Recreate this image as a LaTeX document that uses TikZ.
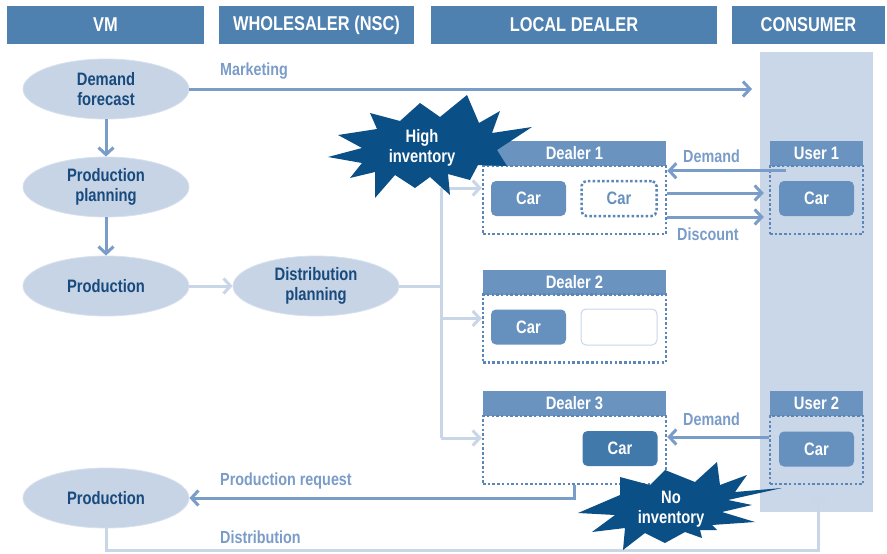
\documentclass[tikz,border=0pt]{standalone}
\usepackage{fontspec}
\setmainfont{Liberation Sans}[FakeStretch=0.82]
\usetikzlibrary{arrows.meta,shapes.geometric,calc}
\definecolor{hdr}{HTML}{4F81B0}
\definecolor{dhdr}{HTML}{6A93BF}
\definecolor{carc}{HTML}{6690BD}
\definecolor{cardark}{HTML}{4179AA}
\definecolor{dotc}{HTML}{5A86B8}
\definecolor{midc}{HTML}{7A9CC8}
\definecolor{lightc}{HTML}{C9D6E7}
\definecolor{ellfill}{HTML}{C6D4E6}
\definecolor{elltext}{HTML}{184A7D}
\definecolor{starc}{HTML}{0B4F87}
\definecolor{consbg}{HTML}{CAD7E8}
\definecolor{emptyc}{HTML}{C8D6EA}
\begin{document}
\begin{tikzpicture}[x=1pt,y=-1pt,
  hdrbox/.style={fill=hdr,text=white,font=\bfseries\fontsize{20}{22}\selectfont,minimum height=38pt,inner sep=0pt},
  ell/.style={ellipse,fill=ellfill,draw=ellfill!70!white,line width=0.8pt,text=elltext,font=\bfseries\fontsize{18}{20.5}\selectfont,minimum width=166pt,minimum height=60pt,inner sep=0pt,align=center},
  dhead/.style={fill=dhdr,text=white,font=\bfseries\fontsize{18}{20}\selectfont,minimum height=25pt,inner sep=0pt},
  dotbody/.style={draw=dotc,line width=2.5pt,dash pattern=on 2.5pt off 2.2pt,minimum height=68pt,inner sep=0pt},
  carbox/.style={rounded corners=5pt,fill=carc,text=white,font=\bfseries\fontsize{18}{20}\selectfont,minimum width=75pt,minimum height=35pt,inner sep=0pt},
  cardot/.style={rounded corners=5pt,draw=dotc,line width=2.5pt,dash pattern=on 2.5pt off 2.2pt,fill=white,text=carc,font=\bfseries\fontsize{18}{20}\selectfont,minimum width=75pt,minimum height=35pt,inner sep=0pt},
  lbl/.style={text=midc,font=\bfseries\fontsize{17.5}{19}\selectfont,inner sep=0pt,anchor=west},
  midarrow/.style={draw=midc,line width=3pt,-{Straight Barb[length=7pt,width=15pt,line width=3pt]}},
  lightarrow/.style={draw=lightc,line width=3pt,-{Straight Barb[length=7pt,width=15pt,line width=3pt]}},
  lightline/.style={draw=lightc,line width=3pt},
  burstfill/.style={fill=starc},
  bursttext/.style={text=white,font=\bfseries\fontsize{18}{20.5}\selectfont,align=center,inner sep=0pt}
]
\useasboundingbox (0,0) rectangle (887,554);
% consumer column background
\fill[consbg] (760,52) rectangle (873,512);
% headers
\node[hdrbox,minimum width=197pt] (hvm) at (105.5,25) {VM};
\node[hdrbox,minimum width=195pt] (hws) at (316.5,25) {WHOLESALER (NSC)};
\node[hdrbox,minimum width=286pt] (hld) at (574,25) {LOCAL DEALER};
\node[hdrbox,minimum width=153pt] (hcs) at (808.5,25) {CONSUMER};
% ellipses
\node[ell] (df) at (106,89) {Demand\\forecast};
\node[ell] (pp) at (106,187) {Production\\planning};
\node[ell] (pr) at (106,286) {Production};
\node[ell] (dp) at (316,286) {Distribution\\planning};
\node[ell] (pr2) at (106,498) {Production};
% dealers
\node[dhead,minimum width=183pt] (d1h) at (574.5,153.5) {Dealer 1};
\node[dotbody,minimum width=183pt] (d1b) at (574.5,200) {};
\node[carbox] (d1c1) at (528.5,198.5) {Car};
\node[cardot] (d1c2) at (619,198.5) {Car};
\node[dhead,minimum width=183pt] (d2h) at (574.5,282.5) {Dealer 2};
\node[dotbody,minimum width=183pt] (d2b) at (574.5,328.5) {};
\node[carbox] (d2c1) at (528.5,327) {Car};
\node[rounded corners=5pt,draw=emptyc,line width=1pt,fill=white,minimum width=76pt,minimum height=36pt,inner sep=0pt] (d2e) at (619,327) {};
\node[dhead,minimum width=183pt] (d3h) at (574.5,403.5) {Dealer 3};
\node[dotbody,minimum width=183pt] (d3b) at (574.5,450) {};
\node[carbox,fill=cardark] (d3c) at (620,448.5) {Car};
% users
\node[dhead,minimum width=93pt] (u1h) at (816.5,153.5) {User 1};
\node[dotbody,minimum width=93pt] (u1b) at (816.5,200) {};
\node[carbox] (u1c) at (816.5,198.5) {Car};
\node[dhead,minimum width=93pt] (u2h) at (816.5,403.5) {User 2};
\node[dotbody,minimum width=93pt] (u2b) at (816.5,450) {};
\node[carbox] (u2c) at (816.5,449) {Car};
% VM flow
\draw[midarrow] (df) -- (pp);
\draw[midarrow] (pp) -- (pr);
\draw[lightarrow] (pr) -- (dp);
% marketing
\coordinate (mkt) at (752,89);
\draw[midarrow] (df.east) -- (mkt);
\node[lbl] (lmkt) at (220,71) {Marketing};
% distribution bus
\coordinate (bus) at (441,286);
\draw[lightline] (dp.east) -- (bus);
\draw[lightline] ([yshift=12pt]d1b.west -| bus) -- ([yshift=12pt]d3b.west -| bus);
\draw[lightarrow] ([yshift=12pt]d1b.west -| bus) -- ([yshift=12pt]d1b.west);
\draw[lightarrow] ([yshift=10pt]d2b.west -| bus) -- ([yshift=10pt]d2b.west);
\draw[lightarrow] ([yshift=12pt]d3b.west -| bus) -- ([yshift=12pt]d3b.west);
% dealer 1 <-> user 1
\draw[midarrow] ([xshift=17pt,yshift=-6pt]u1b.north west) -- ([yshift=-6pt]d1b.north east);
\node[lbl] (ldem1) at (683,156) {Demand};
\draw[midarrow] ([yshift=7pt]d1b.east) -- ([xshift=-5pt,yshift=7pt]u1b.west);
\draw[midarrow] ([yshift=-17pt]d1b.east) -- ([xshift=-5pt,yshift=-17pt]u1b.west);
\node[lbl] (ldisc) at (677,234) {Discount};
% dealer 3 <-> user 2
\draw[midarrow] ([yshift=13pt]u2b.west) -- ([yshift=13pt]d3b.east);
\node[lbl] (ldem2) at (683,419) {Demand};
% production request
\draw[midarrow] (d3b.south) |- (pr2.east);
\node[lbl] (lpreq) at (220,481) {Production request};
% distribution
\draw[lightarrow] (pr2.south) -- ++(0,22) -| ([xshift=1.5pt,yshift=-8pt]u2b.south);
\node[lbl] (ldist) at (220,537) {Distribution};
% burst: high inventory
\fill[burstfill] (328,157) -- (362,148) -- (338,135) -- (377,129) -- (370,113) -- (400,121)
  -- (420,103) -- (440,117) -- (467,95) -- (479,123) -- (500,111) -- (492,133)
  -- (532,127) -- (497,150) -- (507,166) -- (478,165) -- (470,180) -- (448,174)
  -- (450,195) -- (430,177) -- (415,188) -- (395,175) -- (375,198) -- (375,172)
  -- (350,178) -- (362,163) -- cycle;
\node[bursttext] (hi) at (422,148) {High\\inventory};
% burst: no inventory
\fill[burstfill] (578,513) -- (620,495) -- (620,477) -- (650,485) -- (665,470) -- (695,482)
  -- (717,462) -- (720,485) -- (747,475) -- (735,492) -- (782,488) -- (728,500)
  -- (752,505) -- (722,512) -- (755,522) -- (712,525) -- (717,530) -- (700,530)
  -- (702,538) -- (685,532) -- (665,543) -- (645,533) -- (623,550) -- (625,528)
  -- (592,532) -- (615,515) -- cycle;
\node[bursttext] (no) at (671,509) {No\\inventory};
\end{tikzpicture}
\end{document}
